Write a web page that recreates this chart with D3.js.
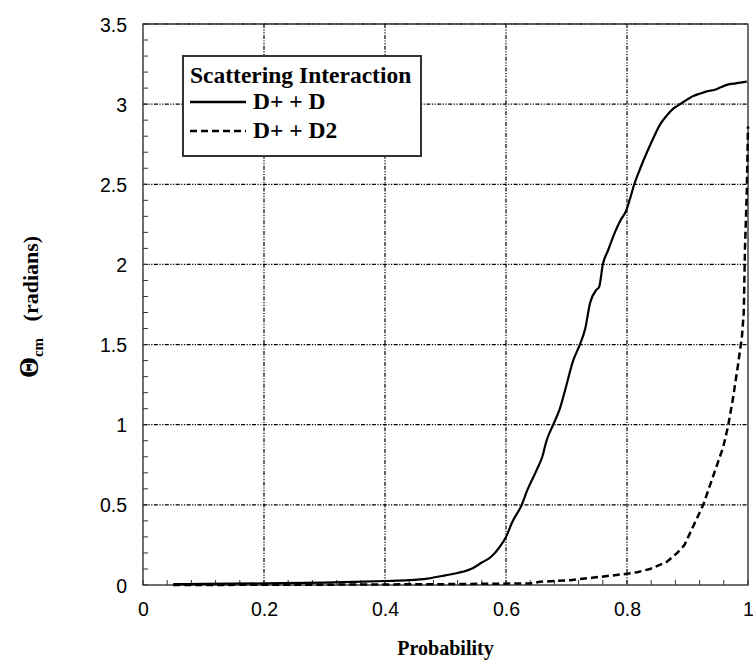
<!DOCTYPE html>
<html>
<head>
<meta charset="utf-8">
<script src="https://cdn.jsdelivr.net/npm/d3@7"></script>
<style>
  body { margin: 0; background: #fff; }
  svg { display: block; }
</style>
</head>
<body>
<svg id="chart" width="753" height="664"></svg>
<script>
// Scattering angle (radians) versus cumulative probability
const xTicks = [0, 0.2, 0.4, 0.6, 0.8, 1];
const yTicks = [0, 0.5, 1, 1.5, 2, 2.5, 3, 3.5];
const xTickLabels = ["0", "0.2", "0.4", "0.6", "0.8", "1"];
const yTickLabels = ["0", "0.5", "1", "1.5", "2", "2.5", "3", "3.5"];

const seriesNames = ["D+ + D", "D+ + D2"];

// D+ + D
const probD = [0.05, 0.1, 0.2, 0.3, 0.35, 0.4, 0.44, 0.47, 0.5, 0.52, 0.545, 0.56, 0.575, 0.59, 0.6,
  0.61, 0.626, 0.635, 0.651, 0.66, 0.667, 0.678, 0.689, 0.698, 0.711, 0.721, 0.731, 0.739, 0.749,
  0.754, 0.76, 0.769, 0.78, 0.79, 0.798, 0.805, 0.812, 0.822, 0.833, 0.845, 0.855, 0.866, 0.876,
  0.888, 0.9, 0.909, 0.92, 0.932, 0.945, 0.955, 0.965, 0.98, 0.998];
const thetaD = [0.005, 0.007, 0.01, 0.015, 0.02, 0.025, 0.03, 0.04, 0.06, 0.075, 0.105, 0.14, 0.175, 0.24, 0.3,
  0.39, 0.5, 0.59, 0.72, 0.8, 0.9, 1.0, 1.1, 1.22, 1.4, 1.49, 1.6, 1.76, 1.84,
  1.86, 2.0, 2.09, 2.2, 2.28, 2.33, 2.41, 2.5, 2.6, 2.7, 2.8, 2.875, 2.93, 2.97,
  3.0, 3.03, 3.05, 3.065, 3.08, 3.09, 3.105, 3.12, 3.13, 3.14];

// D+ + D2
const probD2 = [0.05, 0.3, 0.49, 0.64, 0.656, 0.706, 0.742, 0.777, 0.8, 0.817, 0.838, 0.866, 0.883, 0.895,
  0.926, 0.942, 0.959, 0.967, 0.975, 0.983, 0.99, 0.993, 0.995, 0.998, 1.0];
const thetaD2 = [0.0, 0.002, 0.005, 0.01, 0.02, 0.03, 0.045, 0.06, 0.07, 0.08, 0.1, 0.145, 0.2, 0.25,
  0.5, 0.675, 0.86, 0.99, 1.16, 1.36, 1.55, 1.7, 2.1, 2.45, 2.86];

const svg = d3.select("#chart");
const plot = { left: 143, right: 748, top: 24, bottom: 585 };

const x = d3.scaleLinear().domain([0, 1]).range([plot.left, plot.right]);
const y = d3.scaleLinear().domain([0, 3.5]).range([plot.bottom, plot.top]);

const serif = "'Liberation Serif', 'Times New Roman', serif";
const sans = "'Liberation Sans', Arial, sans-serif";

// grid
const grid = svg.append("g").attr("stroke", "#000").attr("stroke-width", 1.2)
  .attr("stroke-dasharray", "4,1.5,1.2,1.5,1.2,1.5");
grid.selectAll("line.gx").data(xTicks.slice(1, -1)).join("line")
  .attr("x1", d => x(d)).attr("x2", d => x(d))
  .attr("y1", plot.top).attr("y2", plot.bottom);
grid.selectAll("line.gy").data(yTicks.slice(1)).join("line")
  .attr("x1", plot.left).attr("x2", plot.right)
  .attr("y1", d => y(d)).attr("y2", d => y(d));

// frame
svg.append("rect")
  .attr("x", plot.left).attr("y", plot.top)
  .attr("width", plot.right - plot.left).attr("height", plot.bottom - plot.top)
  .attr("fill", "none").attr("stroke", "#222").attr("stroke-width", 1.3);

// minor ticks, drawn inward
const xMinor = d3.range(0, 1.0001, 0.04);
const yMinor = d3.range(0, 3.5001, 0.1);
svg.append("g").attr("stroke", "#333").attr("stroke-width", 1)
  .selectAll("line").data(xMinor).join("line")
  .attr("x1", d => x(d)).attr("x2", d => x(d))
  .attr("y1", plot.bottom).attr("y2", plot.bottom - 5);
svg.append("g").attr("stroke", "#333").attr("stroke-width", 1)
  .selectAll("line").data(yMinor).join("line")
  .attr("x1", plot.left).attr("x2", plot.left + 5)
  .attr("y1", d => y(d)).attr("y2", d => y(d));

// tick labels via axes
const xAxis = d3.axisBottom(x).tickValues(xTicks)
  .tickFormat((d, i) => xTickLabels[i]).tickSize(0).tickPadding(17);
const yAxis = d3.axisLeft(y).tickValues(yTicks)
  .tickFormat((d, i) => yTickLabels[i]).tickSize(0).tickPadding(16);

const gx = svg.append("g").attr("transform", `translate(0,${plot.bottom})`).call(xAxis);
const gy = svg.append("g").attr("transform", `translate(${plot.left},0)`).call(yAxis);
[gx, gy].forEach(g => {
  g.select(".domain").remove();
  g.selectAll("text").attr("font-family", sans)
    .attr("font-size", 19.5).attr("fill", "#000");
});
gy.selectAll("text").attr("dy", "0.36em");

// data lines
const line = d3.line().x(d => x(d[0])).y(d => y(d[1])).curve(d3.curveMonotoneX);
const dataD = probD.map((p, i) => [p, thetaD[i]]);
const dataD2 = probD2.map((p, i) => [p, thetaD2[i]]);

svg.append("path").datum(dataD).attr("d", line)
  .attr("fill", "none").attr("stroke", "#000").attr("stroke-width", 2.2)
  .attr("stroke-linejoin", "round");
svg.append("path").datum(dataD2)
  .attr("d", d3.line().x(d => x(d[0])).y(d => y(d[1])))
  .attr("fill", "none").attr("stroke", "#000").attr("stroke-width", 2.5)
  .attr("stroke-dasharray", "7,4");

// legend
const lg = svg.append("g");
lg.append("rect").attr("x", 183).attr("y", 56).attr("width", 238).attr("height", 100)
  .attr("fill", "#fff").attr("stroke", "#333").attr("stroke-width", 2);
lg.append("text").attr("x", 190).attr("y", 83)
  .attr("font-family", serif)
  .attr("font-weight", "bold").attr("font-size", 23.5).text("Scattering Interaction");
const legendRows = [
  { name: seriesNames[0], dash: null, y: 102 },
  { name: seriesNames[1], dash: "7,4", y: 131 }
];
legendRows.forEach(r => {
  lg.append("line").attr("x1", 190).attr("x2", 246).attr("y1", r.y).attr("y2", r.y)
    .attr("stroke", "#000").attr("stroke-width", 2.5)
    .attr("stroke-dasharray", r.dash);
  lg.append("text").attr("x", 253).attr("y", r.y + 7)
    .attr("font-family", serif)
    .attr("font-weight", "bold").attr("font-size", 23.5).text(r.name);
});

// axis titles
svg.append("text").attr("x", (plot.left + plot.right) / 2).attr("y", 655)
  .attr("text-anchor", "middle")
  .attr("font-family", serif)
  .attr("font-weight", "bold").attr("font-size", 20).text("Probability");

const yt = svg.append("text")
  .attr("transform", "translate(38,307) rotate(-90)")
  .attr("text-anchor", "middle")
  .attr("font-family", serif)
  .attr("font-weight", "bold").attr("font-size", 22);
yt.append("tspan").attr("font-size", 27).text("Θ");
yt.append("tspan").attr("font-size", 15).attr("dy", 5).text("cm");
yt.append("tspan").attr("dy", -5).text("\u00a0\u00a0\u00a0(radians)");
</script>
</body>
</html>
